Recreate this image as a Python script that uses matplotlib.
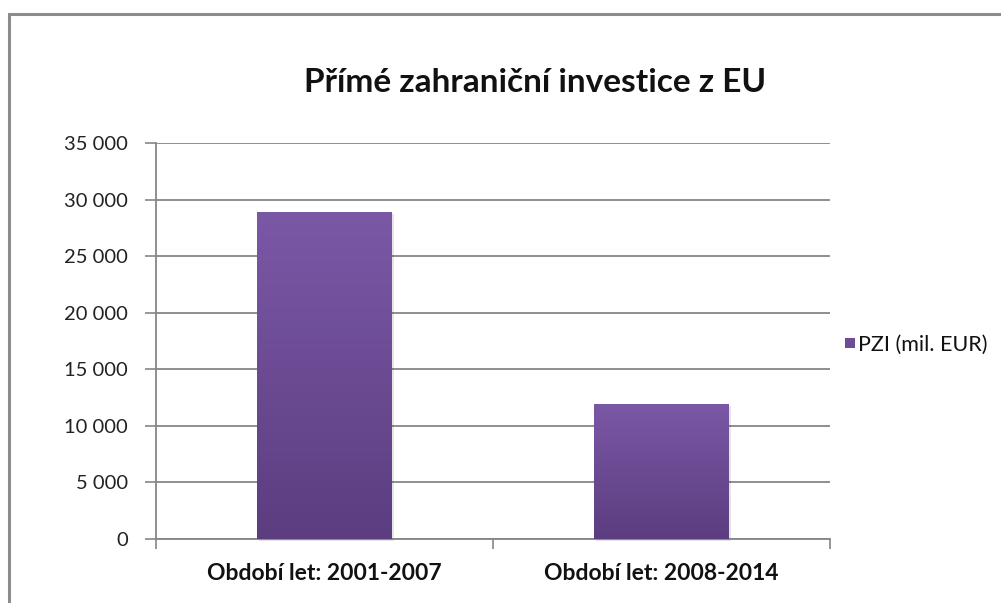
import matplotlib
matplotlib.use("Agg")
import matplotlib.pyplot as plt
import numpy as np
from matplotlib.colors import LinearSegmentedColormap
from matplotlib.patches import Rectangle

categories = ["Období let: 2001-2007", "Období let: 2008-2014"]
values = [28900, 11950]
series_name = "PZI (mil. EUR)"
yticks = [0, 5000, 10000, 15000, 20000, 25000, 30000, 35000]
ytick_labels = ["0", "5 000", "10 000", "15 000", "20 000", "25 000", "30 000", "35 000"]
title = "Přímé zahraniční investice z EU"

plt.rcParams['font.family'] = ['Lato', 'DejaVu Sans']

fig = plt.figure(figsize=(10.01, 6.03), dpi=100)
# outer chart frame
fig.add_artist(Rectangle((9/1001, -0.05), 1.1, (603-14)/603 + 0.05, transform=fig.transFigure,
                         fill=False, edgecolor='#8c8c8c', linewidth=2.2))

ax = fig.add_axes([156/1001, (603-539)/603, (830-156)/1001, (539-143)/603])
x = np.arange(len(categories))
bars = ax.bar(x, values, width=0.4, color='none', zorder=3)

cmap = LinearSegmentedColormap.from_list('g', ['#5c3d80', '#7b58a6'])
grad = np.linspace(0, 1, 256).reshape(-1, 1)
for b in bars:
    x0, w, h = b.get_x(), b.get_width(), b.get_height()
    # soft shadow
    ax.add_patch(Rectangle((x0 + 0.006, -200), w, h, facecolor='#000000', alpha=0.10,
                           edgecolor='none', zorder=2, clip_on=False))
    im = ax.imshow(grad, extent=[x0, x0 + w, 0, h], origin='lower', cmap=cmap,
                   aspect='auto', zorder=3)
    im.set_clip_path(b)

ax.set_xlim(-0.5, len(categories) - 0.5)
ax.set_ylim(0, 35000)
ax.set_yticks(yticks)
ax.set_yticklabels(ytick_labels, fontsize=14.5, color='#222222')
ax.set_xticks(x)
ax.set_xticklabels(categories, fontsize=16.5, fontweight='bold', color='#111111')
ax.set_xticks([-0.5, 0.5, 1.5], minor=True)
ax.tick_params(axis='x', which='major', length=0, pad=17)
ax.tick_params(axis='x', which='minor', length=7, color='#868686', width=1.2)
ax.tick_params(axis='y', length=8, color='#868686', width=1.2, pad=12)
ax.grid(axis='y', color='#868686', linewidth=1.3, zorder=0)
ax.set_axisbelow(True)
for s in ['top', 'right']:
    ax.spines[s].set_visible(False)
for s in ['left', 'bottom']:
    ax.spines[s].set_color('#868686')
    ax.spines[s].set_linewidth(1.3)

fig.text(535/1001, 1 - 83/603, title, fontsize=24, fontweight='bold', ha='center', va='center',
         color='#111111')

# legend
lax = fig.add_axes([0, 0, 1, 1], facecolor='none')
lax.set_axis_off()
lax.set_xlim(0, 1001); lax.set_ylim(603, 0)
lax.add_patch(Rectangle((845, 338), 10, 10, facecolor='#6e4d96', edgecolor='none'))
lax.text(858, 345, series_name, fontsize=15.5, va='center', ha='left', color='#111111')

fig.savefig('out.png', dpi=100)
